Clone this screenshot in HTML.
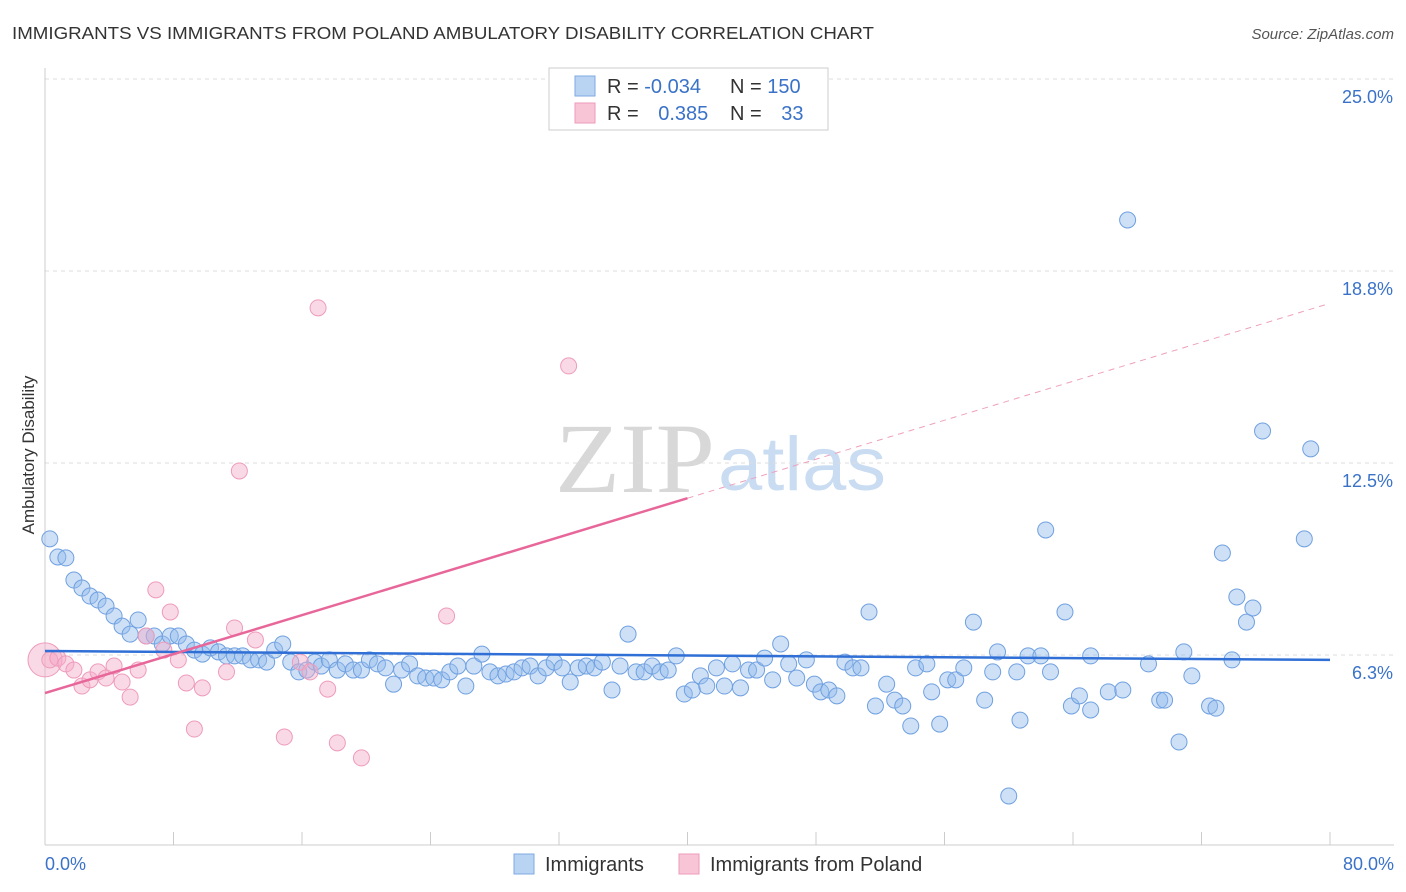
<!DOCTYPE html>
<html><head><meta charset="utf-8">
<style>
body{margin:0;background:#fff;font-family:"Liberation Sans",sans-serif;}
#wrap{position:relative;width:1406px;height:892px;overflow:hidden;}
</style></head>
<body>
<div id="wrap">
<svg id="chart" width="1406" height="892" xmlns="http://www.w3.org/2000/svg">
<text x="12" y="39" font-size="17.5" fill="#333" textLength="862" lengthAdjust="spacingAndGlyphs">IMMIGRANTS VS IMMIGRANTS FROM POLAND AMBULATORY DISABILITY CORRELATION CHART</text>
<text x="1394" y="39" font-size="15" fill="#555" font-style="italic" text-anchor="end">Source: ZipAtlas.com</text>
<text x="635" y="492" font-size="100" fill="#d8d8d8" font-family="Liberation Serif,serif" text-anchor="middle" textLength="160" lengthAdjust="spacingAndGlyphs">ZIP</text>
<text x="802" y="490" font-size="76" fill="#c9dcf2" text-anchor="middle" textLength="168" lengthAdjust="spacingAndGlyphs">atlas</text>
<g id="grid"></g>
<g id="axes"></g>
<g id="marks"></g>
<text transform="translate(34,455) rotate(-90)" font-size="17" fill="#333" text-anchor="middle">Ambulatory Disability</text>
<text x="45" y="870" font-size="18" fill="#3a72c8">0.0%</text>
<text x="1394" y="870" font-size="18" fill="#3a72c8" text-anchor="end">80.0%</text>
<g>
<rect x="549" y="68" width="279" height="62" fill="#fff" stroke="#ccc"/>
<rect x="575" y="76" width="20" height="20" fill="#b9d3f3" stroke="#7ea9e0"/>
<rect x="575" y="103" width="20" height="20" fill="#f8c5d6" stroke="#ee9bbb"/>
<text x="607" y="93" font-size="20" fill="#333">R = <tspan fill="#3a72c8">-0.034</tspan></text>
<text x="730" y="93" font-size="20" fill="#333">N = <tspan fill="#3a72c8">150</tspan></text>
<text x="607" y="120" font-size="20" fill="#333">R = <tspan fill="#3a72c8" dx="14">0.385</tspan></text>
<text x="730" y="120" font-size="20" fill="#333">N = <tspan fill="#3a72c8" dx="14">33</tspan></text>
</g>
<g>
<rect x="514" y="854" width="20" height="20" fill="#b9d3f3" stroke="#7ea9e0"/>
<text x="545" y="871" font-size="20" fill="#333">Immigrants</text>
<rect x="679" y="854" width="20" height="20" fill="#f8c5d6" stroke="#ee9bbb"/>
<text x="710" y="871" font-size="20" fill="#333">Immigrants from Poland</text>
</g>
</svg>
</div>
<script>
const yTicks=[6.25,12.5,18.75,25];
const yTickLabels=["6.3%","12.5%","18.8%","25.0%"];
const xTicks=[0,8,16,24,32,40,48,56,64,72,80];
const blueX=[0.3,0.8,1.3,1.8,2.3,2.8,3.3,3.8,4.3,4.8,5.3,5.8,6.3,6.8,7.3,7.8,8.3,8.8,9.3,9.8,10.3,10.8,11.3,11.8,12.3,12.8,13.3,13.8,14.3,14.8,15.3,15.8,16.3,16.8,17.2,17.7,18.2,18.7,19.2,19.7,20.2,20.7,21.2,21.7,22.2,22.7,23.2,23.7,24.2,24.7,25.2,25.7,26.2,26.7,27.2,27.7,28.2,28.7,29.2,29.7,30.2,30.7,31.2,31.7,32.2,32.7,33.2,33.7,34.2,34.7,35.3,35.8,36.3,36.8,37.3,37.8,38.3,38.8,39.3,39.8,40.3,40.8,41.2,41.8,42.3,42.8,43.3,43.8,44.3,44.8,45.3,45.8,46.3,46.8,47.4,47.9,48.3,48.8,49.3,49.8,50.3,50.8,51.3,51.7,52.4,52.9,53.4,53.9,54.2,54.9,55.2,55.7,56.2,56.7,57.2,57.8,58.5,59.0,59.3,60.0,60.5,60.7,61.2,62.0,62.3,62.6,63.5,63.9,64.4,65.1,65.1,66.2,67.1,67.4,68.7,69.4,69.7,70.6,70.9,71.4,72.5,72.9,73.3,73.9,74.2,74.8,75.2,75.8,78.4,78.8];
const blueY=[10.03,9.44,9.41,8.69,8.43,8.17,8.04,7.84,7.52,7.19,6.93,7.39,6.87,6.87,6.61,6.87,6.87,6.61,6.41,6.28,6.48,6.35,6.22,6.22,6.22,6.09,6.09,6.02,6.41,6.61,6.02,5.70,5.76,6.02,5.89,6.09,5.76,5.96,5.76,5.76,6.09,5.96,5.83,5.30,5.76,5.96,5.57,5.50,5.50,5.44,5.70,5.89,5.24,5.89,6.28,5.70,5.57,5.63,5.70,5.83,5.89,5.57,5.83,6.02,5.83,5.37,5.83,5.89,5.83,6.02,5.11,5.89,6.93,5.70,5.70,5.89,5.70,5.76,6.22,4.98,5.11,5.57,5.24,5.83,5.24,5.96,5.18,5.76,5.76,6.15,5.44,6.61,5.96,5.50,6.09,5.30,5.05,5.11,4.92,6.02,5.83,5.83,7.65,4.59,5.30,4.78,4.59,3.94,5.83,5.96,5.05,4.00,5.44,5.44,5.83,7.32,4.78,5.70,6.35,1.66,5.70,4.13,6.22,6.22,10.32,5.70,7.65,4.59,4.92,6.22,4.46,5.05,5.11,20.41,5.96,4.78,4.78,3.42,6.35,5.57,4.59,4.52,9.57,6.09,8.14,7.32,7.78,13.54,10.03,12.96];
const pinkX=[0.3,0.8,1.3,1.8,2.3,2.8,3.3,3.8,4.3,4.8,5.3,5.8,6.3,6.9,7.4,7.8,8.3,8.8,9.3,9.8,11.3,11.8,12.1,13.1,14.9,15.9,16.5,17.0,17.6,18.2,19.7,25.0,32.6];
const pinkY=[6.09,6.15,5.96,5.76,5.24,5.44,5.70,5.50,5.89,5.37,4.88,5.76,6.87,8.37,6.41,7.65,6.09,5.34,3.84,5.18,5.70,7.13,12.24,6.74,3.58,6.02,5.70,17.55,5.14,3.39,2.90,7.52,15.66];
const blueTrend=[6.38,6.09];
const pinkTrend=[5.01,0.1586];
const NS="http://www.w3.org/2000/svg";
const X0=45,X1=1330,Y0=847,PY=30.72;
function sx(v){return X0+(X1-X0)*v/80;}
function sy(v){return Y0-v*PY;}
function mk(tag,attrs,parent){const e=document.createElementNS(NS,tag);for(const k in attrs)e.setAttribute(k,attrs[k]);parent.appendChild(e);return e;}
const grid=document.getElementById('grid'),axes=document.getElementById('axes'),marks=document.getElementById('marks');
yTicks.forEach((t,i)=>{
  const l=mk('line',{x1:X0,x2:1394,y1:sy(t),y2:sy(t),stroke:'#ddd','stroke-dasharray':'4,4'},grid);
  
  
  const tx=mk('text',{x:1393,y:sy(t)+24,'font-size':18,fill:'#3a72c8','text-anchor':'end'},grid);
  tx.textContent=yTickLabels[i];
  
  
});
const ya=mk('line',{x1:X0,x2:X0,y1:68,y2:845,stroke:'#ccc'},axes);


const xa=mk('line',{x1:X0,x2:1394,y1:845,y2:845,stroke:'#ccc'},axes);


xTicks.forEach(t=>{
  const l=mk('line',{x1:sx(t),x2:sx(t),y1:832,y2:845,stroke:'#ccc'},axes);
  
  
});
blueX.forEach((x,i)=>{
  const c=mk('circle',{cx:sx(x),cy:sy(blueY[i]),r:8,fill:'rgba(147,187,236,0.45)',stroke:'#6fa0e0','stroke-width':1},marks);
  
  
});
const big=mk('circle',{cx:sx(0),cy:sy(6.09),r:17,fill:'rgba(244,170,200,0.45)',stroke:'#ee9bbb'},marks);


pinkX.forEach((x,i)=>{
  const c=mk('circle',{cx:sx(x),cy:sy(pinkY[i]),r:8,fill:'rgba(244,170,200,0.45)',stroke:'#ee9bbb','stroke-width':1},marks);
  
  
});
const bl=mk('line',{x1:sx(0),y1:sy(blueTrend[0]),x2:sx(80),y2:sy(blueTrend[1]),stroke:'#2f6fd6','stroke-width':2.5},marks);


const pe=40;
const pl=mk('line',{x1:sx(0),y1:sy(pinkTrend[0]),x2:sx(pe),y2:sy(pinkTrend[0]+pinkTrend[1]*pe),stroke:'#e8679a','stroke-width':2.5},marks);


const pd=mk('line',{x1:sx(pe),y1:sy(pinkTrend[0]+pinkTrend[1]*pe),x2:sx(79.8),y2:sy(pinkTrend[0]+pinkTrend[1]*79.8),stroke:'#eea0bd','stroke-width':1,'stroke-dasharray':'6,5'},marks);


</script>
</body></html>
